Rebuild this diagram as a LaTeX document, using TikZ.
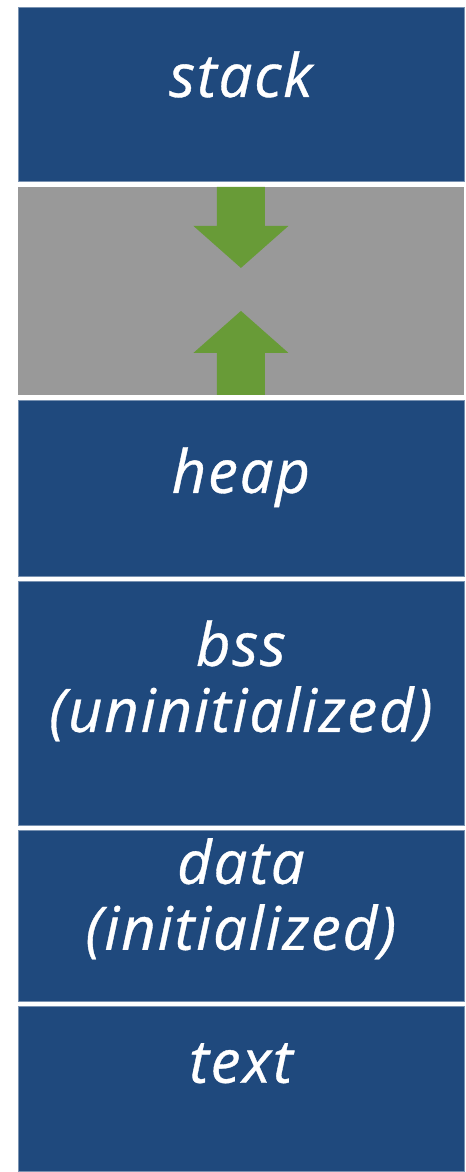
\documentclass[tikz,border=0pt]{standalone}
\usepackage{fontspec}
\newfontfamily\segfont{Open Sans}[LetterSpace=3, FakeBold=0.6]
\usetikzlibrary{positioning}
\definecolor{segblue}{RGB}{31,73,125}
\definecolor{freegray}{RGB}{153,153,153}
\definecolor{growgreen}{RGB}{104,155,55}
\tikzstyle{segment} = [rectangle, minimum width=223pt, inner sep=0pt, outer sep=0pt, fill=segblue, draw=segblue!60!white, line width=0.3pt]
\tikzstyle{free} = [rectangle, minimum width=223pt, minimum height=104pt, inner sep=0pt, outer sep=0pt, fill=freegray]
\tikzstyle{seglabel} = [text=white, font=\segfont\fontsize{30}{33}\selectfont\itshape, align=center, inner sep=0pt, anchor=base]
\tikzstyle{growarrow} = [fill=growgreen]

\begin{document}
\begin{tikzpicture}
    \fill[white] (0,0) rectangle (233pt,-586pt);

    % memory layout, top of the address space first
    \node (stack) [segment, minimum height=87pt, anchor=north west] at (9pt,-3.5pt) {};
    \node (gap) [free, below=3pt of stack] {};
    \node (heap) [segment, minimum height=88pt, below=2.5pt of gap] {};
    \node (bss) [segment, minimum height=122.5pt, below=2.5pt of heap] {};
    \node (data) [segment, minimum height=85.5pt, below=2.5pt of bss] {};
    \node (text) [segment, minimum height=82.5pt, below=2.5pt of data] {};

    % base of a two-line label sits on its last line
    \node (stack_label) [seglabel] at ([yshift=-45pt]stack.north) {stack};
    \node (heap_label) [seglabel] at ([yshift=-46.5pt]heap.north) {heap};
    \node (bss_label) [seglabel] at ([yshift=-75.5pt]bss.north) {bss\\(uninitialized)};
    \node (data_label) [seglabel] at ([yshift=-59.5pt]data.north) {data\\(initialized)};
    \node (text_label) [seglabel] at ([yshift=-38pt]text.north) {text};

    % stack grows down, heap grows up
    \fill[growarrow, shift={(gap.north)}] (-12pt,0) -- (-12pt,-19.5pt) -- (-23.75pt,-19.5pt) -- (0,-40.5pt)
        -- (23.75pt,-19.5pt) -- (12pt,-19.5pt) -- (12pt,0) -- cycle;
    \fill[growarrow, shift={(gap.south)}] (-12pt,0) -- (-12pt,21pt) -- (-23.75pt,21pt) -- (0,42pt)
        -- (23.75pt,21pt) -- (12pt,21pt) -- (12pt,0) -- cycle;
\end{tikzpicture}
\end{document}
